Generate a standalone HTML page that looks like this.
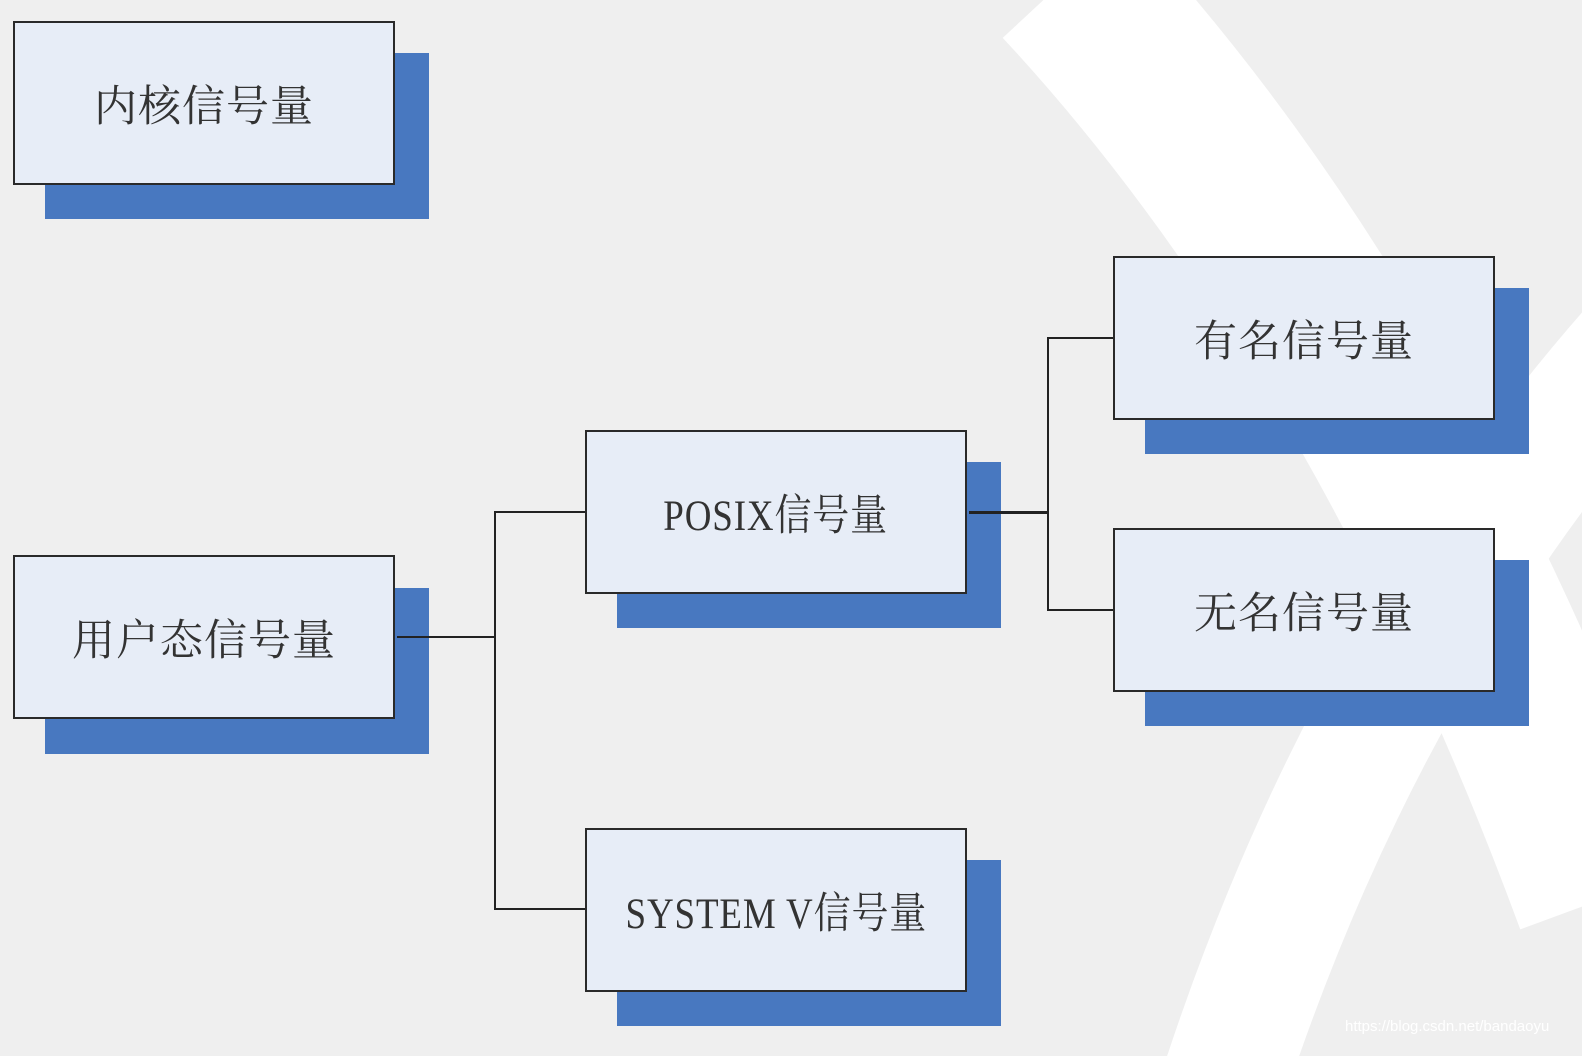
<!DOCTYPE html>
<html><head><meta charset="utf-8"><style>
html,body{margin:0;padding:0;}
body{width:1582px;height:1056px;background:#efefef;position:relative;overflow:hidden;font-family:"Liberation Serif","Noto Serif CJK SC","Noto Sans CJK SC",serif;}
.sh{position:absolute;background:#4878c0;width:384px;height:166px;}
.bx{position:absolute;background:#e7edf7;border:2px solid #2a2a2a;width:378px;height:160px;display:flex;align-items:center;justify-content:center;font-size:43px;color:#333;letter-spacing:1px;box-sizing:content-box;}
.bx span{display:inline-block;transform:scaleX(0.86);white-space:nowrap;}
.ln{position:absolute;background:#222;}
</style></head><body>
<svg width="1582" height="1056" style="position:absolute;left:0;top:0">
<path d="M1065,-20 Q1390,330 1600,900" stroke="#fff" stroke-width="170" fill="none"/>
<path d="M1650,330 Q1370,640 1225,1080" stroke="#fff" stroke-width="125" fill="none"/>
</svg>
<div class="sh" style="left:45px;top:53px"></div>
<div class="bx" style="left:13px;top:21px">内核信号量</div>
<div class="sh" style="left:45px;top:588px"></div>
<div class="bx" style="left:13px;top:555px">用户态信号量</div>
<div class="sh" style="left:617px;top:462px"></div>
<div class="bx" style="left:585px;top:430px"><span>POSIX信号量</span></div>
<div class="sh" style="left:617px;top:860px"></div>
<div class="bx" style="left:585px;top:828px"><span>SYSTEM V信号量</span></div>
<div class="sh" style="left:1145px;top:288px"></div>
<div class="bx" style="left:1113px;top:256px">有名信号量</div>
<div class="sh" style="left:1145px;top:560px"></div>
<div class="bx" style="left:1113px;top:528px">无名信号量</div>
<div class="ln" style="left:397px;top:636px;width:99px;height:2px"></div>
<div class="ln" style="left:494px;top:511px;width:2px;height:399px"></div>
<div class="ln" style="left:494px;top:511px;width:91px;height:2px"></div>
<div class="ln" style="left:494px;top:908px;width:91px;height:2px"></div>
<div class="ln" style="left:969px;top:511px;width:80px;height:3px"></div>
<div class="ln" style="left:1047px;top:337px;width:2px;height:274px"></div>
<div class="ln" style="left:1047px;top:337px;width:66px;height:2px"></div>
<div class="ln" style="left:1047px;top:609px;width:66px;height:2px"></div>
<div style="position:absolute;left:1345px;top:1018px;font:15px 'Liberation Sans',sans-serif;color:#fff;">https://blog.csdn.net/bandaoyu</div>
</body></html>
